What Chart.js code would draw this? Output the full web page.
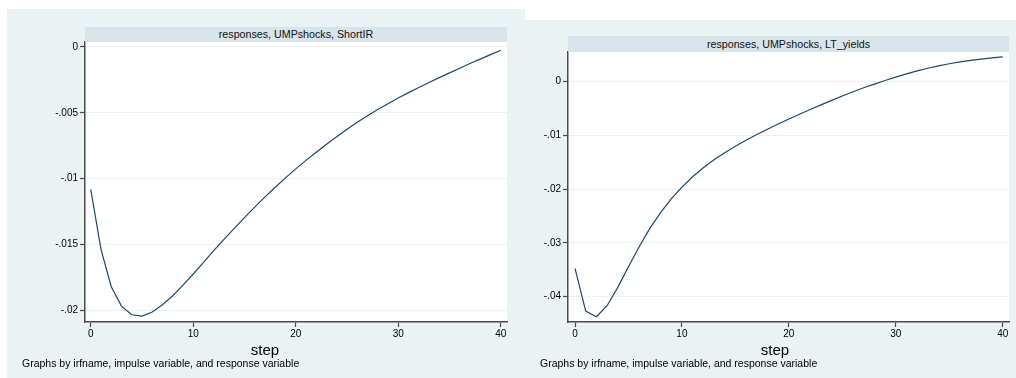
<!DOCTYPE html>
<html>
<head>
<meta charset="utf-8">
<script src="https://cdn.jsdelivr.net/npm/chart.js@4/dist/chart.umd.min.js"></script>
<style>
  body { margin: 0; background: #ffffff; width: 1016px; height: 378px; overflow: hidden; position: relative;
         font-family: "Liberation Sans", Arial, Helvetica, sans-serif; color: #000; }
  .panel { position: absolute; background: #eaf2f3; }
  .panel canvas { position: absolute; left: 0; top: 0; }
  .strip { position: absolute; background: #d8e4ea; font-size: 10.7px; text-align: center; color: #111; }
  .xtitle { position: absolute; font-size: 15px; line-height: 18px; transform: translateX(-50%); white-space: nowrap; }
  .note { position: absolute; font-size: 10.5px; line-height: 14px; white-space: nowrap; }
</style>
</head>
<body>

<div class="panel" id="p1" style="left:7px; top:9px; width:518px; height:369px;">
  <canvas id="c1" width="518" height="369"></canvas>
  <div class="strip" style="left:78px; top:18px; width:422px; height:15px; line-height:15px;">responses, UMPshocks, ShortIR</div>
  <div class="xtitle" style="left:258px; top:332px;">step</div>
  <div class="note" style="left:15px; top:347px;">Graphs by irfname, impulse variable, and response variable</div>
</div>

<div class="panel" id="p2" style="left:525px; top:20px; width:491px; height:358px;">
  <canvas id="c2" width="491" height="358"></canvas>
  <div class="strip" style="left:43px; top:16px; width:441px; height:16px; line-height:16px;">responses, UMPshocks, LT_yields</div>
  <div class="xtitle" style="left:250px; top:321px;">step</div>
  <div class="note" style="left:15px; top:336px;">Graphs by irfname, impulse variable, and response variable</div>
</div>

<script>
// Forecast horizon
const steps = [0, 1, 2, 3, 4, 5, 6, 7, 8, 9, 10, 11, 12, 13, 14, 15, 16, 17, 18, 19, 20,
               21, 22, 23, 24, 25, 26, 27, 28, 29, 30, 31, 32, 33, 34, 35, 36, 37, 38, 39, 40];

// Impulse response of the short-term rate to a UMP shock
const shortIR = [-0.01082, -0.01539, -0.01823, -0.01970, -0.02036, -0.02046, -0.02015, -0.01960,
                 -0.01891, -0.01810, -0.01726, -0.01637, -0.01549, -0.01463, -0.01379, -0.01297,
                 -0.01217, -0.01140, -0.01066, -0.00995, -0.00927, -0.00862, -0.00800, -0.00740,
                 -0.00682, -0.00626, -0.00573, -0.00523, -0.00476, -0.00431, -0.00388, -0.00347,
                 -0.00308, -0.00270, -0.00233, -0.00197, -0.00161, -0.00126, -0.00092, -0.00058,
                 -0.00025];

// Impulse response of long-term yields to a UMP shock
const ltYields = [-0.03472, -0.04266, -0.04372, -0.04167, -0.03826, -0.03442, -0.03070, -0.02728,
                  -0.02437, -0.02180, -0.01960, -0.01768, -0.01600, -0.01452, -0.01320, -0.01200,
                  -0.01089, -0.00984, -0.00884, -0.00788, -0.00695, -0.00605, -0.00517, -0.00431,
                  -0.00347, -0.00266, -0.00188, -0.00114, -0.00045, 0.00022, 0.00085, 0.00145,
                  0.00200, 0.00250, 0.00295, 0.00334, 0.00367, 0.00395, 0.00420, 0.00442,
                  0.00462];

// Axis ticks
const stepTicks = [0, 10, 20, 30, 40];
const shortTicks = [0, -0.005, -0.01, -0.015, -0.02];
const shortTickLabels = ["0", "-.005", "-.01", "-.015", "-.02"];
const ltTicks = [0, -0.01, -0.02, -0.03, -0.04];
const ltTickLabels = ["0", "-.01", "-.02", "-.03", "-.04"];

const FONT = "'Liberation Sans', Arial, Helvetica, sans-serif";
const AXIS = '#4a4a4a';
const GRID = '#eaf2f3';
const LINE = '#1a476f';

// White plot region behind the gridlines and the curve
const plotRegion = {
  id: 'plotRegion',
  beforeDraw(chart) {
    const { ctx, chartArea: a } = chart;
    ctx.save();
    ctx.fillStyle = '#ffffff';
    ctx.fillRect(a.left, a.top, a.right - a.left, a.bottom - a.top);
    ctx.restore();
  }
};

function irfChart(canvasId, values, yTicks, yLabels, yRange, xRange, pad, yAxisWidth) {
  const pts = steps.map((s, i) => ({ x: s, y: values[i] }));
  return new Chart(document.getElementById(canvasId), {
    type: 'line',
    data: {
      datasets: [{
        data: pts,
        borderColor: LINE,
        borderWidth: 1.2,
        pointRadius: 0,
        tension: 0,
        fill: false
      }]
    },
    plugins: [plotRegion],
    options: {
      responsive: false,
      animation: false,
      devicePixelRatio: 1,
      layout: { padding: { top: pad.top, right: pad.right, bottom: 0, left: 0 } },
      plugins: { legend: { display: false }, tooltip: { enabled: false }, title: { display: false } },
      scales: {
        x: {
          type: 'linear',
          min: xRange[0],
          max: xRange[1],
          afterBuildTicks: s => { s.ticks = stepTicks.map(v => ({ value: v })); },
          afterFit: s => { s.height = 56; },
          ticks: { autoSkip: false, maxRotation: 0, padding: 1, color: '#000',
                   font: { family: FONT, size: 10 }, callback: v => String(v) },
          grid: { drawOnChartArea: false, drawTicks: true, tickLength: 5, tickColor: AXIS, tickWidth: 1.2 },
          border: { display: true, color: AXIS, width: 1.5 }
        },
        y: {
          type: 'linear',
          min: yRange[0],
          max: yRange[1],
          afterBuildTicks: s => { s.ticks = yTicks.map(v => ({ value: v })); },
          afterFit: s => { s.width = yAxisWidth; },
          ticks: { autoSkip: false, padding: 2, color: '#000',
                   font: { family: FONT, size: 10 }, callback: (v, i) => yLabels[i] },
          grid: { drawOnChartArea: true, color: GRID, lineWidth: 1, drawTicks: true,
                  tickLength: 5, tickColor: AXIS, tickWidth: 1.2 },
          border: { display: true, color: AXIS, width: 1.5 }
        }
      }
    }
  });
}

irfChart('c1', shortIR, shortTicks, shortTickLabels, [-0.02091, 0.00038], [-0.56, 40.61],
         { top: 33, right: 18 }, 78);
irfChart('c2', ltYields, ltTicks, ltTickLabels, [-0.0447, 0.00552], [-0.656, 40.59],
         { top: 32, right: 7 }, 43);
</script>
</body>
</html>
